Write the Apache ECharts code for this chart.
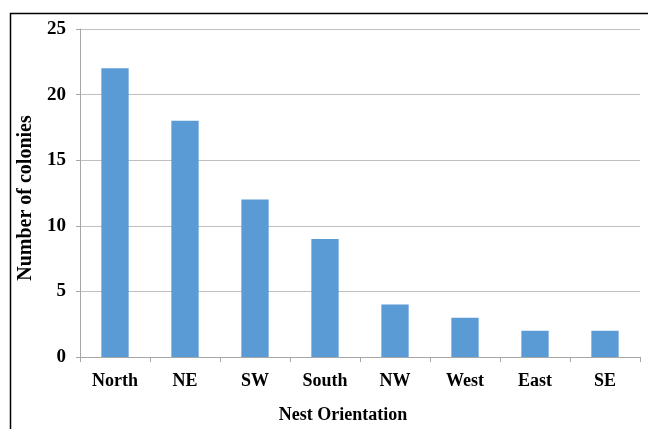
<!DOCTYPE html>
<html><head><meta charset="utf-8">
<script src="https://cdn.jsdelivr.net/npm/echarts@6/dist/echarts.min.js"></script>
<style>html,body{margin:0;padding:0;background:#fff}#c{width:648px;height:429px}</style>
</head><body><div id="c"></div>
<script>
const categories = ['North', 'NE', 'SW', 'South', 'NW', 'West', 'East', 'SE'];
const colonies = [22, 18, 12, 9, 4, 3, 2, 2];
const yTicks = [0, 5, 10, 15, 20, 25];

const font = '"Liberation Serif", "Times New Roman", serif';
const chart = echarts.init(document.getElementById('c'));
chart.setOption({
  animation: false,
  backgroundColor: '#fff',
  graphic: [{
    type: 'rect', left: 8, top: 11,
    shape: { width: 700, height: 500 },
    style: { fill: 'none', stroke: '#000', lineWidth: 1.5 }
  }],
  grid: { left: 80, right: 8, top: 29, bottom: 72 },
  xAxis: {
    type: 'category', data: categories,
    name: 'Nest Orientation', nameLocation: 'middle', nameGap: 49,
    nameTextStyle: { fontFamily: font, fontWeight: 'bold', fontSize: 18, color: '#000', padding: [0, 34, 0, 0] },
    axisLine: { lineStyle: { color: '#a6a6a6', width: 1 } },
    axisTick: { show: true, length: 5, alignWithLabel: false, lineStyle: { color: '#a6a6a6' } },
    axisLabel: { fontFamily: font, fontWeight: 'bold', fontSize: 18, color: '#000', margin: 15 }
  },
  yAxis: {
    type: 'value', min: 0, max: 25, interval: 5,
    name: 'Number of colonies', nameLocation: 'middle', nameGap: 42,
    nameTextStyle: { fontFamily: font, fontWeight: 'bold', fontSize: 20, color: '#000', padding: [0, 10, 0, 0] },
    axisLine: { show: true, lineStyle: { color: '#a6a6a6', width: 1 } },
    axisTick: { show: true, length: 4, lineStyle: { color: '#a6a6a6' } },
    axisLabel: { fontFamily: font, fontWeight: 'bold', fontSize: 19, color: '#000', margin: 14,
      formatter: v => yTicks.includes(v) ? String(v) : '' },
    splitLine: { lineStyle: { color: '#bfbfbf', width: 1 } }
  },
  series: [{
    type: 'bar', data: colonies, barWidth: '39%',
    itemStyle: { color: '#5b9bd5' }
  }]
});
</script></body></html>
